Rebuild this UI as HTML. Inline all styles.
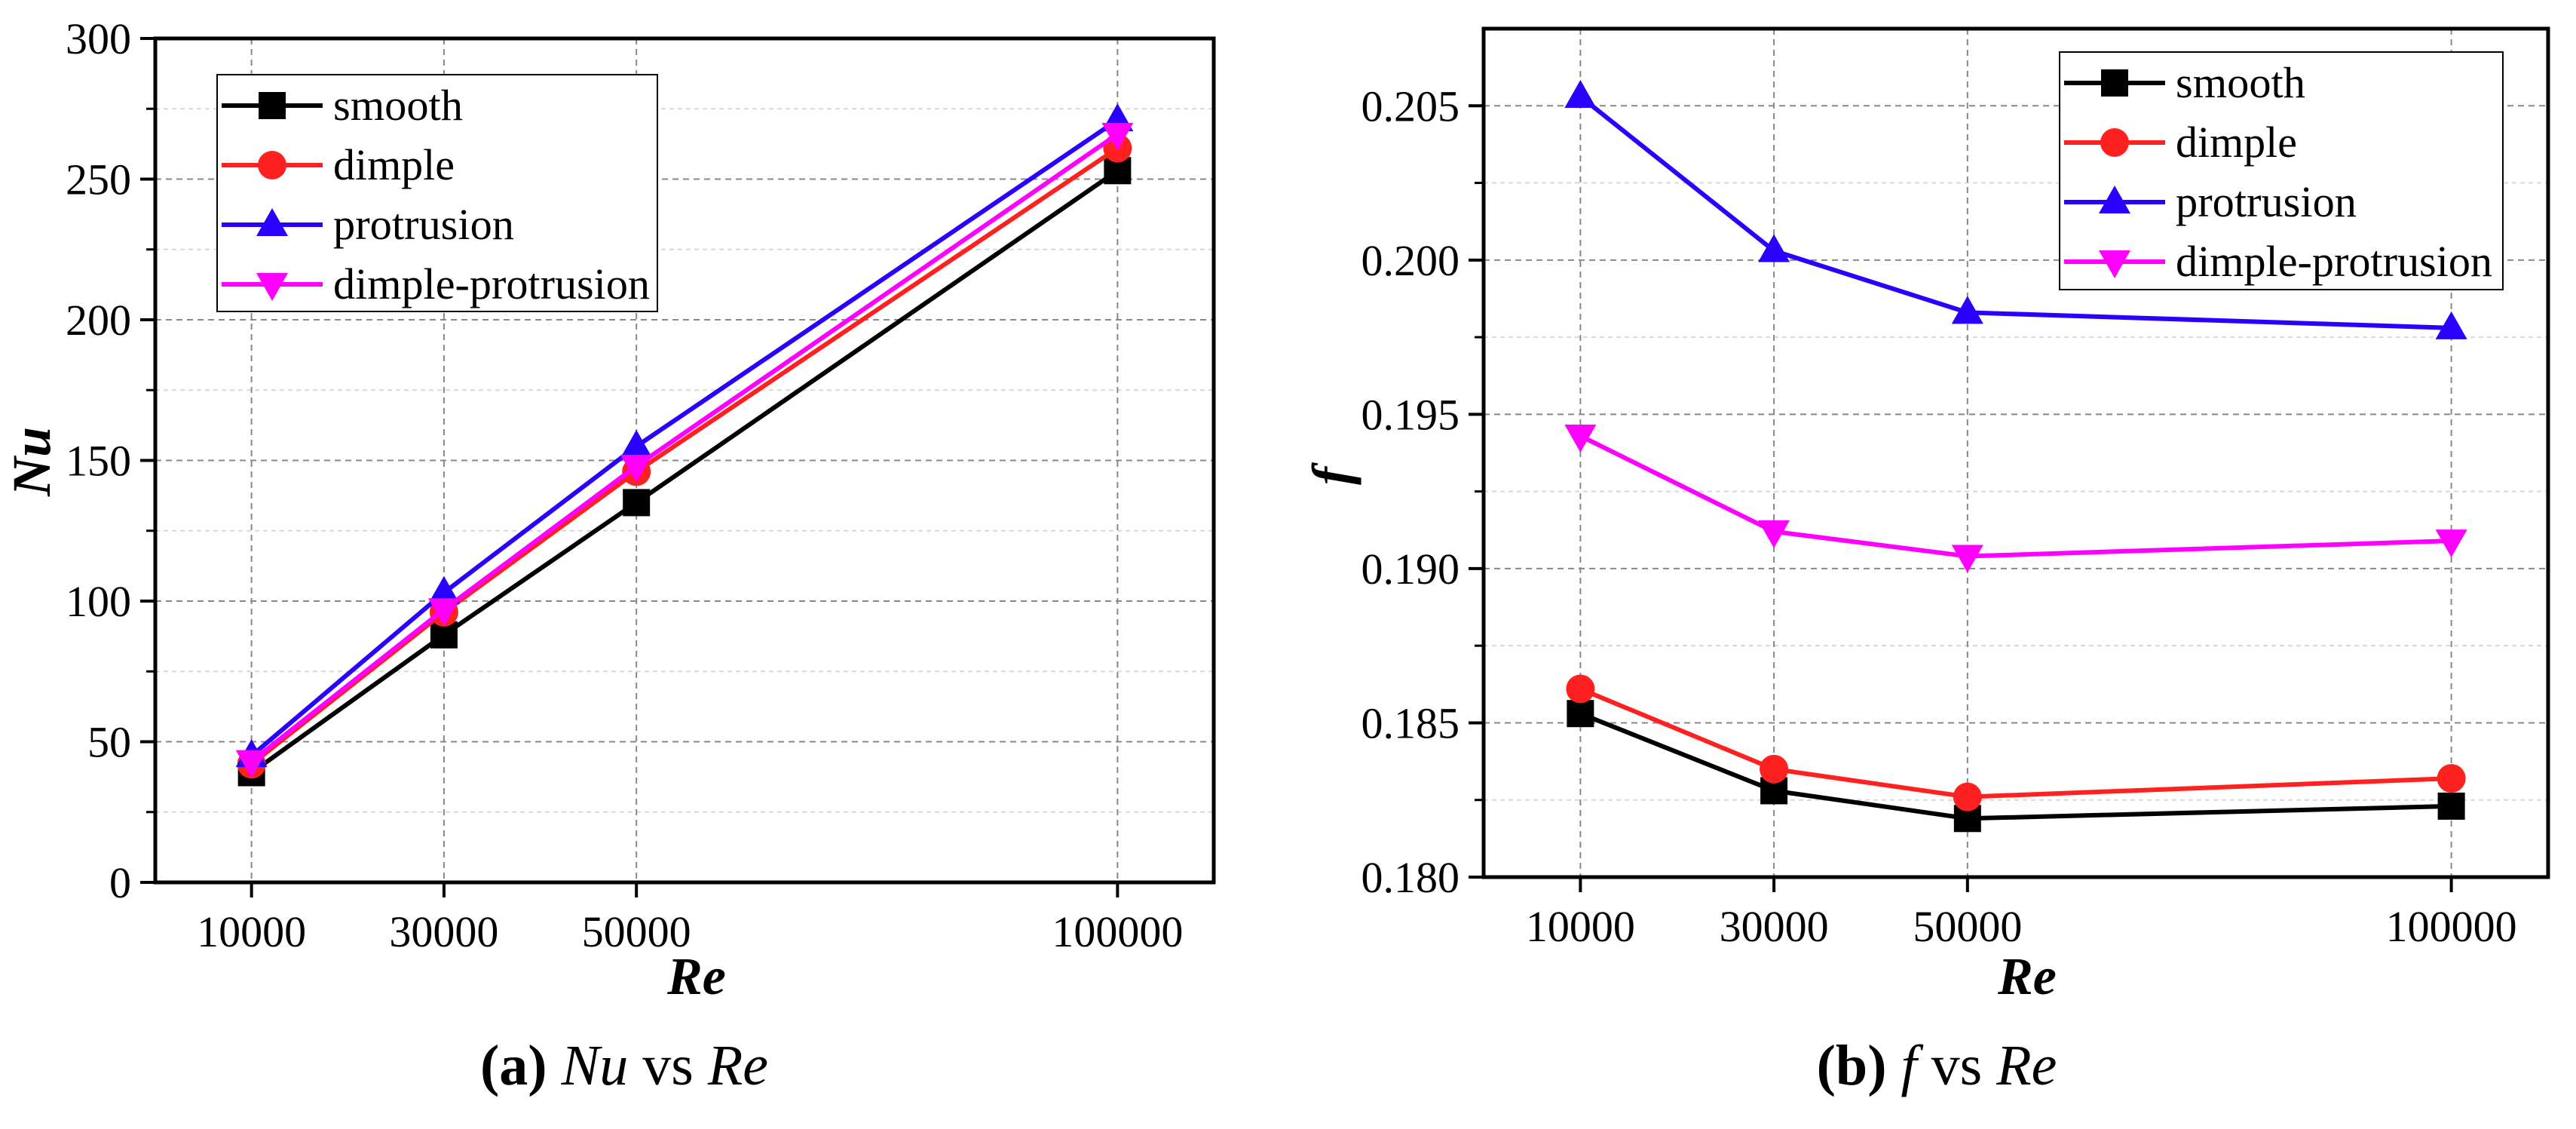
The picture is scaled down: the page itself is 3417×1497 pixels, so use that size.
<!DOCTYPE html>
<html><head><meta charset="utf-8"><style>
html,body{margin:0;padding:0;background:#fff;}
svg{display:block;font-family:"Liberation Serif",serif;}
</style></head><body>
<svg id="fig" width="3417" height="1497" viewBox="0 0 3417 1497" xmlns="http://www.w3.org/2000/svg">
<rect width="3417" height="1497" fill="#fff"/>
<g id="chartA"></g>
<g id="chartB"></g>
<text x="828" y="1438" font-size="76" text-anchor="middle"><tspan font-weight="bold">(a)</tspan> <tspan font-style="italic">Nu</tspan> vs <tspan font-style="italic">Re</tspan></text>
<text x="2569" y="1438" font-size="76" text-anchor="middle"><tspan font-weight="bold">(b)</tspan> <tspan font-style="italic">f</tspan> vs <tspan font-style="italic">Re</tspan></text>
</svg>
<script>
const categories = [10000, 30000, 50000, 100000];
const xTickLabels = ["10000", "30000", "50000", "100000"];
const seriesNames = ["smooth", "dimple", "protrusion", "dimple-protrusion"];
const nuSmooth = [39, 88, 135, 253];
const nuDimple = [42, 96, 146, 261];
const nuProtrusion = [45, 103, 155, 271];
const nuDimpleProtrusion = [43, 97, 148, 266];
const nuTicks = [0, 50, 100, 150, 200, 250, 300];
const fSmooth = [0.1853, 0.1828, 0.1819, 0.1823];
const fDimple = [0.1861, 0.1835, 0.1826, 0.1832];
const fProtrusion = [0.2053, 0.2003, 0.1983, 0.1978];
const fDimpleProtrusion = [0.1943, 0.1912, 0.1904, 0.1909];
const fTicks = [0.180, 0.185, 0.190, 0.195, 0.200, 0.205];

const NS = "http://www.w3.org/2000/svg";
const colors = ["#000000", "#ff2020", "#2a00ff", "#ff00ff"];
const markers = ["square", "circle", "up", "down"];

function mk(tag, attrs, parent) {
  const e = document.createElementNS(NS, tag);
  for (const k in attrs) e.setAttribute(k, attrs[k]);
  parent.appendChild(e);
  return e;
}
function marker(g, type, cx, cy, color, name) {
  let e;
  if (type === "square") e = mk("rect", {x: cx-18, y: cy-18, width: 36, height: 36, fill: color}, g);
  else if (type === "circle") e = mk("circle", {cx: cx, cy: cy, r: 19, fill: color}, g);
  else if (type === "up") e = mk("polygon", {points: `${cx},${cy-22} ${cx+21},${cy+15} ${cx-21},${cy+15}`, fill: color}, g);
  else e = mk("polygon", {points: `${cx},${cy+22} ${cx+21},${cy-15} ${cx-21},${cy-15}`, fill: color}, g);
  
  
  return e;
}

function drawChart(g, cfg) {
  const X = v => cfg.L + (v - 0) / 110000 * (cfg.R - cfg.L);
  const Y = v => cfg.B - (v - cfg.ymin) / (cfg.ymax - cfg.ymin) * (cfg.B - cfg.T);
  for (let i = 0; i < cfg.ticks.length; i++) {
    const v = cfg.ticks[i] + cfg.step / 2;
    if (v < cfg.ymax) {
      const y = Y(v);
      const l = mk("line", {x1: cfg.L, x2: cfg.R, y1: y, y2: y, stroke: "#d8d8d8", "stroke-width": 2, "stroke-dasharray": "6,5"}, g);
      
      
      const t = mk("line", {x1: cfg.L - 12, x2: cfg.L, y1: y, y2: y, stroke: "#000", "stroke-width": 3}, g);
      
      
    }
  }
  cfg.ticks.forEach((v, i) => {
    const y = Y(v);
    if (i > 0) {
      const l = mk("line", {x1: cfg.L, x2: cfg.R, y1: y, y2: y, stroke: "#888", "stroke-width": 2, "stroke-dasharray": "8,6"}, g);
      
      
    }
    const t = mk("line", {x1: cfg.L - 20, x2: cfg.L, y1: y, y2: y, stroke: "#000", "stroke-width": 4}, g);
    
    
    const tx = mk("text", {x: cfg.L - 32, y: y + 20, "font-size": 58, "text-anchor": "end"}, g);
    tx.textContent = cfg.fmt(v);
    
    
  });
  categories.forEach((c, i) => {
    const x = X(c);
    const l = mk("line", {x1: x, x2: x, y1: cfg.T, y2: cfg.B, stroke: "#888", "stroke-width": 2, "stroke-dasharray": "8,6"}, g);
    
    
    const t = mk("line", {x1: x, x2: x, y1: cfg.B, y2: cfg.B + 20, stroke: "#000", "stroke-width": 4}, g);
    
    
    const tx = mk("text", {x: x, y: cfg.B + 85, "font-size": 58, "text-anchor": "middle"}, g);
    tx.textContent = xTickLabels[i];
    
    
  });
  const fr = mk("rect", {x: cfg.L, y: cfg.T, width: cfg.R - cfg.L, height: cfg.B - cfg.T, fill: "none", stroke: "#000", "stroke-width": 5}, g);
  
  
  cfg.series.forEach((s, si) => {
    const sg = mk("g", {}, g);
    
    
    const pts = s.map((v, i) => X(categories[i]) + "," + Y(v)).join(" ");
    const pl = mk("polyline", {points: pts, fill: "none", stroke: colors[si], "stroke-width": 6}, sg);
    
    
    s.forEach((v, i) => marker(sg, markers[si], X(categories[i]), Y(v), colors[si], 'point-' + seriesNames[si]));
  });
  const lg = mk("g", {}, g);
  
  
  const lb = mk("rect", {x: cfg.lx, y: cfg.ly, width: cfg.lw, height: cfg.lh, fill: "#fff", stroke: "#000", "stroke-width": 2}, lg);
  
  
  seriesNames.forEach((n, i) => {
    const y = cfg.ly + 41 + i * 79;
    const eg = mk("g", {}, lg);
    
    
    mk("line", {x1: cfg.lx + 6, x2: cfg.lx + 140, y1: y, y2: y, stroke: colors[i], "stroke-width": 6}, eg);
    marker(eg, markers[i], cfg.lx + 73, y, colors[i], 'legend-marker');
    const t = mk("text", {x: cfg.lx + 154, y: y + 19, "font-size": 58, textLength: cfg.tl[i], lengthAdjust: "spacingAndGlyphs"}, eg);
    t.textContent = n;
    
    
  });
  const xt = mk("text", {x: cfg.xtx, y: 1318, "font-size": 70, "font-weight": "bold", "font-style": "italic", "text-anchor": "middle"}, g);
  xt.textContent = "Re";
  
  
  const yt = mk("text", {x: 0, y: 0, "font-size": 72, "font-weight": "bold", "font-style": "italic", "text-anchor": "middle", transform: `translate(${cfg.ytx},${cfg.yty}) rotate(-90)`}, g);
  yt.textContent = cfg.ytitle;
  
  
}

drawChart(document.getElementById("chartA"), {
  L: 206, R: 1610, T: 51, B: 1170, ymin: 0, ymax: 300, step: 50, ticks: nuTicks,
  fmt: v => String(v), series: [nuSmooth, nuDimple, nuProtrusion, nuDimpleProtrusion],
  lx: 288, ly: 99, lw: 584, lh: 314, xtx: 924, ytx: 66, yty: 612, ytitle: "Nu",
  tl: [172, 161, 240, 420]
});
drawChart(document.getElementById("chartB"), {
  L: 1968, R: 3380, T: 38, B: 1163, ymin: 0.180, ymax: 0.2075, step: 0.005, ticks: fTicks,
  fmt: v => v.toFixed(3), series: [fSmooth, fDimple, fProtrusion, fDimpleProtrusion],
  lx: 2732, ly: 69, lw: 588, lh: 315, xtx: 2689, ytx: 1790, yty: 631, ytitle: "f",
  tl: [172, 161, 240, 420]
});
</script>
</body></html>
